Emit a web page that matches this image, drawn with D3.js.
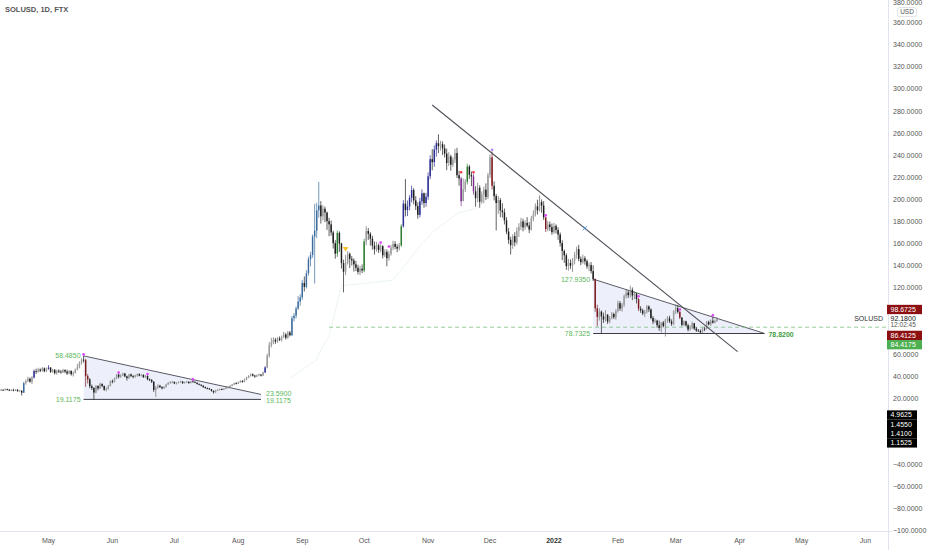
<!DOCTYPE html>
<html>
<head>
<meta charset="utf-8">
<script src="https://cdn.jsdelivr.net/npm/d3@7"></script>
<style>
  html, body { margin: 0; padding: 0; background: #fff; }
  svg { display: block; font-family: "Liberation Sans", Arial, sans-serif; }
</style>
</head>
<body>
<div id="chart"></div>
<script>
// SOLUSD daily candles. Each row: [close, high, low]; open = previous close.
const firstOpen = 26.8;
const apr21 = [[27.2,28.1,26.1],[27.8,28.6,26.9],[27.4,28.3,26.8],[28.3,29.0,27.1],[27.9,28.9,27.3],[27.1,28.4,26.5],[27.6,28.5,26.7],[27.0,28.8,26.4],[27.9,28.4,26.6],[26.6,28.2,26.0],[26.9,27.7,26.1],[25.2,27.4,22.6],[33.8,35.0,24.9],[35.6,37.1,32.4],[37.8,39.6,34.8],[35.2,39.0,34.1],[38.9,40.1,33.0],[44.8,46.2,38.1],[44.1,46.9,42.0],[46.2,47.8,43.2],[45.0,47.1,43.8],[47.3,48.4,44.1],[44.6,48.0,43.6],[46.8,47.9,43.9]];
const may21 = [[47.9,50.1,45.9],[44.0,48.3,43.1],[45.9,46.8,43.2],[42.8,46.5,41.7],[45.1,46.0,41.5],[44.2,46.3,43.0],[43.5,45.6,42.4],[45.8,46.7,43.0],[44.3,46.2,42.8],[42.6,45.9,41.2],[44.9,45.6,41.8],[41.9,45.3,40.6],[43.1,44.5,39.8],[46.0,46.9,42.5],[48.3,51.2,45.4],[52.1,53.5,47.2],[55.0,56.3,50.6],[54.6,58.485,52.4],[40.2,55.8,30.5],[37.1,42.0,33.5],[31.0,38.4,29.2],[29.4,32.5,27.6],[25.3,30.2,19.1175],[31.2,32.0,24.6],[29.0,31.9,27.3],[33.1,34.2,28.5],[31.2,33.6,30.1],[27.8,31.7,26.9],[28.6,30.1,26.4],[31.5,32.2,27.9],[35.6,36.3,30.8]];
const jun21 = [[35.2,37.0,33.6],[38.1,38.9,34.4],[41.5,42.0,37.5],[39.6,42.6,38.1],[40.8,41.9,38.5],[42.6,43.3,40.2],[39.9,43.0,39.2],[38.4,40.6,36.1],[41.7,42.2,37.6],[40.2,42.5,39.4],[39.5,41.0,38.1],[40.8,41.5,38.7],[41.9,42.4,39.6],[40.6,42.8,40.0],[41.2,42.1,39.8],[39.1,41.9,38.6],[40.3,41.2,38.5],[37.2,41.0,36.4],[36.8,38.1,35.6],[35.1,37.4,33.9],[27.6,35.6,25.9],[29.8,31.2,21.3],[31.5,32.8,28.6],[30.2,32.3,29.4],[29.1,31.0,28.2],[30.4,31.1,28.5],[32.6,33.2,29.8],[33.9,34.8,32.1],[34.5,35.6,33.2],[35.0,35.8,33.7]];
const jul21 = [[33.6,35.2,32.9],[34.1,34.7,32.6],[34.9,35.4,33.5],[35.3,36.1,34.2],[33.8,35.5,33.1],[34.6,35.2,33.4],[35.1,35.9,34.0],[33.9,35.3,33.2],[35.4,35.8,33.6],[35.0,36.4,34.3],[34.2,35.4,33.8],[33.1,34.6,32.5],[32.4,33.5,31.8],[31.6,32.8,30.9],[30.2,31.9,29.6],[29.4,30.8,28.7],[28.9,29.9,28.2],[28.2,29.5,27.6],[26.8,28.6,26.1],[25.6,27.2,24.3],[27.3,27.8,25.0],[27.9,28.4,26.8],[28.4,28.9,27.2],[28.1,29.0,27.5],[28.8,29.3,27.6],[29.6,31.0,28.3],[30.4,31.2,28.9],[31.3,32.1,29.8],[32.5,33.0,30.9],[33.7,34.3,32.0],[33.4,34.6,32.8]];
const aug21 = [[34.6,35.3,33.0],[35.8,36.4,34.1],[34.9,36.5,34.2],[37.2,37.9,34.6],[38.9,39.6,36.5],[40.3,41.0,38.2],[41.9,42.6,39.7],[40.6,42.5,39.8],[39.8,41.3,38.6],[40.9,41.7,39.2],[41.6,42.4,40.1],[40.7,42.0,39.8],[43.5,44.2,40.3],[48.0,49.1,43.0],[58.6,60.5,47.2],[68.2,70.9,57.0],[70.4,74.8,66.1],[73.1,75.2,68.9],[71.5,74.6,69.4],[74.2,75.5,70.3],[73.0,76.1,71.8],[75.4,76.9,71.5],[77.8,80.2,74.6],[74.9,79.3,73.2],[79.6,81.1,73.8],[77.2,81.0,76.1],[92.5,94.6,76.5],[94.8,97.2,89.6],[101.3,103.2,92.4],[107.6,112.5,100.1],[111.4,114.3,103.8]];
const sep21 = [[124.5,127.3,109.2],[121.0,130.4,116.8],[133.2,136.0,119.5],[146.0,148.2,131.0],[149.8,152.6,139.5],[166.5,168.3,147.2],[171.8,196.0,124.0],[190.2,197.0,165.0],[194.6,216.0,183.5],[184.8,198.5,178.2],[191.6,194.8,181.0],[188.2,193.5,179.6],[180.4,189.0,172.5],[177.5,183.4,166.8],[170.2,181.0,167.3],[160.5,171.8,155.6],[151.0,163.2,146.4],[169.8,172.0,148.0],[160.2,171.2,152.6],[142.5,160.8,137.5],[134.6,145.6,116.0],[143.0,149.8,131.5],[150.8,153.2,141.2],[146.2,152.0,138.0],[144.8,148.9,140.2],[141.3,146.7,134.8],[138.2,144.5,135.1],[134.5,140.9,132.2],[137.4,139.8,131.6],[135.8,141.2,133.4]];
const oct21 = [[162.0,164.5,134.2],[171.5,175.8,158.6],[168.9,174.2,163.4],[164.6,170.5,158.2],[158.3,167.1,154.6],[155.0,162.0,150.1],[158.6,161.7,152.8],[154.2,160.1,151.6],[157.8,159.6,152.4],[149.5,158.6,146.7],[152.6,155.0,147.9],[146.9,154.8,139.5],[150.8,153.4,144.6],[156.5,158.9,149.2],[159.8,162.7,154.1],[157.2,162.3,155.0],[155.6,159.5,152.3],[158.4,160.6,153.8],[175.8,177.6,157.2],[196.3,199.5,174.5],[190.4,218.5,184.6],[193.8,199.1,185.0],[201.5,203.9,190.2],[208.6,212.5,197.4],[199.2,210.3,195.6],[194.0,203.1,190.5],[186.1,197.4,182.6],[198.4,201.6,183.9],[205.6,209.2,195.1],[196.8,206.3,192.5],[202.5,205.9,193.4]];
const nov21 = [[221.0,224.5,199.8],[236.5,240.1,218.3],[233.8,245.6,226.4],[245.2,249.0,229.6],[251.0,253.5,238.8],[248.3,259.0,242.0],[250.1,253.0,244.3],[246.2,252.6,240.3],[241.5,249.8,238.0],[233.0,246.1,226.5],[238.9,242.8,230.4],[231.4,240.5,226.0],[236.2,238.3,229.6],[242.0,245.8,233.1],[222.0,246.8,219.5],[219.0,226.0,212.5],[198.5,220.4,194.0],[209.2,219.0,203.5],[216.0,218.4,206.8],[229.8,232.4,213.5],[222.3,231.2,218.6],[220.8,225.4,212.1],[207.4,223.0,204.3],[201.2,212.0,193.5],[210.6,215.2,197.4],[197.9,212.8,192.6],[204.5,207.3,196.1],[208.9,211.5,196.8],[202.3,214.6,199.5],[222.1,224.0,200.4]];
const dec21 = [[238.2,240.9,219.5],[212.4,243.5,209.0],[203.0,216.4,199.2],[196.8,205.1,172.0],[199.5,203.2,186.9],[190.1,201.4,184.0],[188.4,196.6,183.5],[181.2,191.8,177.4],[170.9,184.0,168.6],[163.5,174.2,159.8],[158.6,166.3,150.2],[166.8,168.5,155.4],[161.2,170.4,157.6],[171.6,174.8,159.2],[175.3,178.6,166.1],[180.2,183.4,172.5],[174.8,182.6,171.2],[178.9,181.2,172.4],[176.4,184.0,174.8],[172.8,179.5,169.6],[182.6,185.1,171.8],[186.4,190.2,180.3],[193.8,196.4,184.6],[190.2,199.8,186.5],[197.6,203.8,189.2],[194.5,200.1,188.0],[183.8,198.6,181.5],[173.2,184.0,170.6],[177.4,180.5,171.2],[175.1,180.0,171.6],[170.4,178.2,168.1]];
const jan22 = [[176.1,178.9,168.9],[172.4,177.5,169.2],[168.3,174.8,163.5],[160.6,170.2,157.4],[153.4,163.1,145.2],[149.5,154.8,142.6],[139.8,151.2,136.4],[142.6,146.3,135.6],[140.1,145.8,137.2],[144.5,147.0,134.5],[149.8,152.6,141.3],[155.1,157.2,146.4],[146.3,159.0,144.1],[143.2,148.5,140.6],[146.8,150.2,141.9],[144.1,148.7,141.0],[139.5,145.6,137.3],[140.6,142.8,135.2],[135.2,143.4,133.0],[127.9,140.4,126.2],[101.5,128.6,98.4],[93.6,104.8,85.2],[98.5,101.6,90.4],[94.2,99.5,78.7325],[91.4,97.6,88.2],[95.8,99.8,89.5],[89.6,96.2,87.4],[92.8,94.5,88.1],[96.4,98.2,91.6],[93.5,97.6,91.8],[99.1,100.6,91.2]];
const feb22 = [[106.2,108.5,97.6],[101.3,108.1,99.2],[104.8,106.4,98.5],[112.6,114.1,102.9],[115.8,118.6,110.4],[113.4,117.9,110.8],[118.2,122.0,111.5],[113.1,120.4,108.9],[114.6,116.8,109.7],[109.8,115.5,106.0],[101.2,110.8,99.0],[99.6,103.5,97.4],[96.8,101.2,95.3],[98.4,100.1,93.8],[103.2,104.6,96.8],[100.5,104.2,98.1],[92.8,101.4,91.6],[89.5,94.6,87.2],[90.4,92.3,88.1],[86.2,91.2,83.9],[83.8,90.5,81.2],[88.6,89.4,79.6],[85.4,90.1,84.2],[90.8,92.0,76.0],[92.6,94.3,88.4],[89.7,94.8,88.2],[87.4,91.5,85.6],[98.9,99.8,86.3]];
const mar22 = [[101.6,105.2,96.4],[98.3,104.6,96.8],[93.1,99.0,91.8],[86.5,93.6,85.2],[89.8,90.6,85.4],[86.1,90.2,84.9],[82.4,87.5,80.6],[83.5,86.2,81.2],[88.0,89.5,82.8],[83.2,88.3,81.9],[81.4,84.6,80.3],[81.0,82.8,80.2],[79.8,82.5,79.1],[83.1,84.0,79.5],[82.9,84.8,80.8],[89.2,90.1,82.3],[86.9,90.4,86.1],[90.3,91.5,85.7],[88.6,93.8,87.6],[90.1,91.2,87.9],[92.18,93.6,89.3]];

const monthStarts = [["2021-04-07", apr21], ["2021-05-01", may21], ["2021-06-01", jun21], ["2021-07-01", jul21],
  ["2021-08-01", aug21], ["2021-09-01", sep21], ["2021-10-01", oct21], ["2021-11-01", nov21],
  ["2021-12-01", dec21], ["2022-01-01", jan22], ["2022-02-01", feb22], ["2022-03-01", mar22]];

// bar-colour indicator states: [from, to, state]
const barStates = [
  ["2021-04-19", "2021-04-19", "trend"], ["2021-04-24", "2021-04-24", "impulse"], ["2021-05-01", "2021-05-01", "impulse"],
  ["2021-05-19", "2021-05-20", "bear"], ["2021-08-14", "2021-08-14", "impulse"], ["2021-08-27", "2021-09-09", "trend"],
  ["2021-09-18", "2021-09-18", "bull"], ["2021-10-01", "2021-10-01", "bull"], ["2021-10-19", "2021-10-19", "bull"],
  ["2021-10-20", "2021-11-05", "impulse"], ["2021-11-17", "2021-11-17", "weak"], ["2021-11-20", "2021-11-20", "bull"],
  ["2021-11-23", "2021-11-23", "weak"], ["2021-12-02", "2021-12-02", "bear"], ["2021-12-28", "2021-12-28", "bear"],
  ["2022-01-21", "2022-01-22", "bear"], ["2022-02-11", "2022-02-11", "bear"], ["2022-03-03", "2022-03-03", "bear"]
];

// signal markers: [date, price, kind]
const signals = [
  ["2021-05-18", 59.8, "pink"], ["2021-06-04", 43.4, "pink"], ["2021-06-18", 42.0, "pink"], ["2021-07-10", 37.2, "pink"],
  ["2021-10-09", 161.0, "pink"], ["2021-10-13", 157.4, "pink"], ["2021-12-28", 185.6, "pink"], ["2022-02-11", 112.4, "pink"],
  ["2022-03-03", 100.4, "pink"], ["2022-03-19", 95.2, "pink"], ["2021-12-02", 245.0, "lilac"],
  ["2021-11-17", 224.6, "red"], ["2021-11-23", 224.6, "red"], ["2021-09-22", 155.2, "yellow"], ["2022-01-16", 174.0, "cross"]
];

// faint trailing-stop line
const trailDates = ["2021-08-26", "2021-09-08", "2021-09-10", "2021-09-14", "2021-09-20", "2021-10-01", "2021-10-15", "2021-10-29", "2021-11-04", "2021-11-16", "2021-11-26"];
const trailValues = [38, 55, 64, 76, 122, 124, 127, 160, 172, 188, 193];

// drawings
const leftTriangle = { from: "2021-05-18", to: "2021-08-12", top: [58.485, 23.59], bottom: 19.1175 };
const rightTriangle = { from: "2022-01-20", to: "2022-04-13", top: [127.935, 78.82], bottom: 78.7325 };
const downTrend = { from: "2021-11-03", to: "2022-03-31", prices: [285.5, 62.3] };
const supportLevel = { from: "2021-09-14", price: 84.4175 };

// right-axis price labels
const lastPrice = 92.18;
const countdown = "12:02:45";
const axisBadges = [[98.6725, "red"], [86.4125, "red"], [84.4175, "green"], [4.9625, "black"], [1.455, "black"], [1.41, "black"], [1.1525, "black"]];

const yTickValues = d3.range(-100, 381, 20);
const monthTicks = d3.utcMonths(new Date(Date.UTC(2021, 4, 1)), new Date(Date.UTC(2022, 5, 2)));

// ---------------------------------------------------------------
const W = 932, H = 550;
const plotRight = 888, plotBottom = 531;
const parse = s => new Date(s + "T00:00:00Z");

const x = d3.scaleUtc().domain([parse("2021-05-01"), parse("2022-06-01")]).range([48.5, 865.5]);
const y = d3.scaleLinear().domain([-100, 360]).range([531, 22.7]);

const candles = [];
let prev = firstOpen;
monthStarts.forEach(([start, rows]) => {
  rows.forEach((r, i) => {
    const o = prev, c = r[0];
    candles.push({ date: d3.utcDay.offset(parse(start), i), o, c, h: Math.max(r[1], o, c), l: Math.min(r[2], o, c) });
    prev = c;
  });
});
barStates.forEach(([a, b, s]) => {
  const da = parse(a), db = parse(b);
  candles.forEach(d => {
    if (d.date >= da && d.date <= db) {
      if ((s === "trend" || s === "impulse") && d.c < d.o) return;
      d.state = s;
    }
  });
});

const stateColor = { trend: "#3b6c9c", impulse: "#2a2d92", bull: "#2e7d32", bear: "#7d1a1d", weak: "#7a2b8c" };

const svg = d3.select("#chart").append("svg").attr("width", W).attr("height", H);
svg.append("rect").attr("width", W).attr("height", H).attr("fill", "#fff");

svg.append("clipPath").attr("id", "plot").append("rect").attr("width", plotRight).attr("height", plotBottom);
const plot = svg.append("g").attr("clip-path", "url(#plot)");

// triangles
function triangle(t, labelRight) {
  const x0 = x(parse(t.from)), x1 = x(parse(t.to));
  const pts = [[x0, y(t.top[0])], [x1, y(t.top[1])], [x1, y(t.bottom)], [x0, y(t.bottom)]];
  plot.append("path").attr("d", d3.line()(pts) + "Z").attr("fill", "#e7ebf8").attr("opacity", 0.75);
  plot.append("line").attr("x1", x0).attr("y1", y(t.top[0])).attr("x2", x1).attr("y2", y(t.top[1]))
    .attr("stroke", "#5a5a66").attr("stroke-width", 1);
  plot.append("line").attr("x1", x0).attr("y1", y(t.bottom)).attr("x2", x1).attr("y2", y(t.bottom))
    .attr("stroke", "#3c3c44").attr("stroke-width", 1);
  const g = svg.append("g").attr("fill", "#5cb85c").attr("font-size", 7);
  g.append("text").attr("x", x0 - 3).attr("y", y(t.top[0])).attr("dy", "0.35em").attr("text-anchor", "end").text(d3.format(".4f")(t.top[0]));
  g.append("text").attr("x", x0 - 3).attr("y", y(t.bottom)).attr("dy", "0.35em").attr("text-anchor", "end").text(d3.format(".4f")(t.bottom));
  if (labelRight === "both") {
    g.append("text").attr("x", x1 + 5).attr("y", y(t.top[1]) - 1).attr("dy", "0.35em").text(d3.format(".4f")(t.top[1]));
    g.append("text").attr("x", x1 + 5).attr("y", y(t.bottom) + 1.5).attr("dy", "0.35em").text(d3.format(".4f")(t.bottom));
  } else {
    g.append("text").attr("x", x1 + 4).attr("y", y(t.bottom) + 1).attr("dy", "0.35em").attr("font-weight", "bold")
      .attr("fill", "#43a047").text(d3.format(".4f")(t.top[1]));
  }
}
triangle(leftTriangle, "both");
triangle(rightTriangle, "one");

// faint trailing line
plot.append("path")
  .attr("d", d3.line().x((d, i) => x(parse(trailDates[i]))).y(d => y(d))(trailValues))
  .attr("fill", "none").attr("stroke", "#e2f0e2").attr("stroke-width", 0.7);

// support dashed level
plot.append("line").attr("x1", x(parse(supportLevel.from))).attr("x2", plotRight)
  .attr("y1", y(supportLevel.price)).attr("y2", y(supportLevel.price))
  .attr("stroke", "#7cbf7f").attr("stroke-width", 0.8).attr("stroke-dasharray", "4,3");

// candles
const bodyW = 1.45;
const cg = plot.append("g");
candles.forEach(d => {
  const up = d.c >= d.o;
  const col = d.state ? stateColor[d.state] : (up ? "#9c9c9c" : "#1c1c1c");
  const wick = d.state ? stateColor[d.state] : (up ? "#6a6a6a" : "#1c1c1c");
  const cx = x(d.date);
  cg.append("line").attr("x1", cx).attr("x2", cx).attr("y1", y(d.h)).attr("y2", y(d.l))
    .attr("stroke", wick).attr("stroke-width", 0.7);
  const top = y(Math.max(d.o, d.c)), bot = y(Math.min(d.o, d.c));
  cg.append("rect").attr("x", cx - bodyW / 2).attr("y", top).attr("width", bodyW)
    .attr("height", Math.max(0.8, bot - top)).attr("fill", col);
});

// descending trendline
plot.append("line")
  .attr("x1", x(parse(downTrend.from))).attr("y1", y(downTrend.prices[0]))
  .attr("x2", x(parse(downTrend.to))).attr("y2", y(downTrend.prices[1]))
  .attr("stroke", "#4e5058").attr("stroke-width", 1.1);

// signal markers
const sg = plot.append("g");
signals.forEach(([ds, p, k]) => {
  const sx = x(parse(ds)), sy = y(p);
  if (k === "pink") sg.append("circle").attr("cx", sx).attr("cy", sy).attr("r", 1.3).attr("fill", "#e040fb");
  if (k === "lilac") sg.append("circle").attr("cx", sx).attr("cy", sy).attr("r", 1.4).attr("fill", "#b388ff");
  if (k === "red") sg.append("circle").attr("cx", sx).attr("cy", sy).attr("r", 1.3).attr("fill", "#f23645");
  if (k === "yellow") sg.append("path").attr("d", `M${sx - 3},${sy - 2}L${sx + 3},${sy - 2}L${sx},${sy + 2.5}Z`).attr("fill", "#f9c22e");
  if (k === "cross") sg.append("path").attr("d", `M${sx - 2},${sy - 2}L${sx + 2},${sy + 2}M${sx - 2},${sy + 2}L${sx + 2},${sy - 2}`)
    .attr("stroke", "#4a90d9").attr("stroke-width", 0.9);
});

// axes frame
svg.append("line").attr("x1", plotRight + 0.5).attr("x2", plotRight + 0.5).attr("y1", 0).attr("y2", H).attr("stroke", "#e0e3eb");
svg.append("line").attr("x1", 0).attr("x2", plotRight + 4).attr("y1", plotBottom + 0.5).attr("y2", plotBottom + 0.5).attr("stroke", "#e0e3eb");

// time axis
svg.append("g").selectAll("text").data(monthTicks).join("text")
  .attr("x", d => x(d)).attr("y", 541).attr("dy", "0.35em").attr("text-anchor", "middle")
  .attr("font-size", 7).attr("fill", d => d.getUTCMonth() === 0 ? "#333" : "#555")
  .attr("font-weight", d => d.getUTCMonth() === 0 ? "bold" : "normal")
  .text(d => d.getUTCMonth() === 0 ? d3.utcFormat("%Y")(d) : d3.utcFormat("%b")(d));

// right-axis badges, stacked around the last-price block
const bh = 9.3;
const lastY = y(lastPrice);
const blockTop = lastY - 4.5, blockBot = blockTop + 16.6;
const above = axisBadges.filter(b => b[0] > lastPrice).sort((a, b) => a[0] - b[0]);
const below = axisBadges.filter(b => b[0] < lastPrice).sort((a, b) => b[0] - a[0]);
const placed = [];
let limit = blockTop;
above.forEach(b => { const cy = Math.min(y(b[0]), limit - bh / 2); placed.push([b, cy]); limit = cy - bh / 2; });
limit = blockBot;
below.forEach(b => { const cy = Math.max(y(b[0]), limit + bh / 2); placed.push([b, cy]); limit = cy + bh / 2; });

// price ticks (hidden where a badge sits); the top one is clipped by the frame as in TradingView
const ticks = yTickValues.filter(v => placed.every(p => Math.abs(y(v) - p[1]) > 6.5) && (y(v) < blockTop - 3 || y(v) > blockBot + 2));
svg.append("g").selectAll("text").data(ticks).join("text")
  .attr("x", 893).attr("y", d => Math.max(y(d), 2.2)).attr("dy", "0.35em").attr("font-size", 7).attr("fill", "#555")
  .text(d => (d < 0 ? "\u2212" + d3.format(".4f")(-d) : d3.format(".4f")(d)));

svg.append("rect").attr("x", 897.5).attr("y", 7.5).attr("width", 19).attr("height", 9).attr("rx", 2)
  .attr("fill", "#fff").attr("stroke", "#d6d8de").attr("stroke-width", 0.7);
svg.append("text").attr("x", 907).attr("y", 12).attr("dy", "0.35em").attr("text-anchor", "middle")
  .attr("font-size", 6.5).attr("fill", "#555").text("USD");

const badgeFill = { red: "#8c0f12", green: "#4caf50", black: "#000" };
placed.forEach(([b, cy]) => {
  const label = d3.format(".4f")(b[0]);
  const w = b[1] === "black" ? 30 : 35;
  svg.append("rect").attr("x", 887).attr("y", cy - bh / 2).attr("width", w).attr("height", bh).attr("fill", badgeFill[b[1]]);
  svg.append("text").attr("x", 890.5).attr("y", cy).attr("dy", "0.35em").attr("font-size", 7).attr("fill", "#fff").text(label);
});

svg.append("text").attr("x", 883).attr("y", lastY).attr("dy", "0.35em").attr("text-anchor", "end")
  .attr("font-size", 7).attr("fill", "#333").text("SOLUSD");
svg.append("text").attr("x", 890.5).attr("y", lastY).attr("dy", "0.35em").attr("font-size", 7).attr("fill", "#111")
  .text(d3.format(".4f")(lastPrice));
svg.append("text").attr("x", 890.5).attr("y", lastY + 6.5).attr("dy", "0.35em").attr("font-size", 6.5).attr("fill", "#555")
  .text(countdown);

// title
svg.append("text").attr("x", 5).attr("y", 9.5).attr("dy", "0.35em").attr("font-size", 7.5).attr("font-weight", "bold")
  .attr("fill", "#555").text("SOLUSD, 1D, FTX");
</script>
</body>
</html>
